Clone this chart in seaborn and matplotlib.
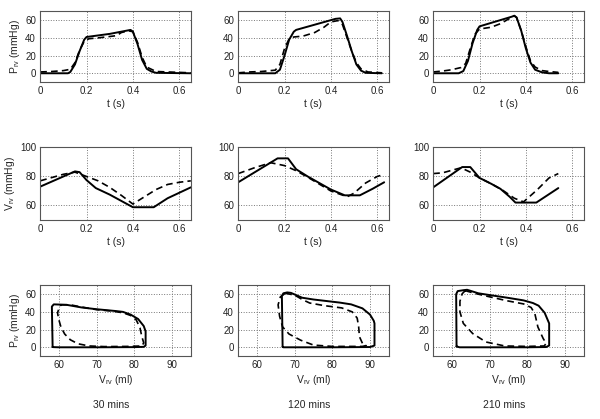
import numpy as np
import pandas as pd
import seaborn as sns
import matplotlib
matplotlib.use("Agg")
import matplotlib.pyplot as plt

# conditions (columns)
conditions = ['30 mins', '120 mins', '210 mins']

# P_rv(t): (t [s], P [mmHg]) -- solid = model, dashed = measured
p_t_30_solid = [(0, 0), (0.12, 0), (0.13, 1.5), (0.15, 10), (0.17, 25), (0.19, 38), (0.2, 41), (0.3, 44.5),
                (0.37, 48), (0.39, 49), (0.4, 47), (0.42, 33), (0.44, 15), (0.46, 5), (0.48, 2), (0.5, 0.5), (0.65, 0)]
p_t_30_dash = [(0, 1.5), (0.05, 2), (0.1, 3), (0.13, 4.5), (0.15, 12), (0.17, 26), (0.19, 36), (0.21, 39), (0.25, 40),
               (0.33, 42.5), (0.35, 46), (0.38, 48), (0.4, 47), (0.42, 35), (0.44, 18), (0.46, 7), (0.5, 2), (0.55, 1.5),
               (0.6, 1), (0.65, 0.5)]
p_t_120_solid = [(0, 0), (0.16, 0), (0.18, 4), (0.2, 20), (0.22, 38), (0.24, 47), (0.25, 49), (0.42, 61.5), (0.44, 62),
                 (0.45, 58), (0.47, 42), (0.49, 25), (0.51, 10), (0.53, 3), (0.55, 0.5), (0.62, 0)]
p_t_120_dash = [(0, 0.5), (0.05, 1.5), (0.1, 2), (0.16, 3.5), (0.18, 10), (0.2, 28), (0.22, 39), (0.24, 41), (0.28, 42),
                (0.33, 46), (0.37, 52), (0.4, 58), (0.43, 59.5), (0.45, 55), (0.47, 40), (0.49, 25), (0.51, 12),
                (0.53, 5), (0.56, 1.5), (0.62, 0.5)]
p_t_210_solid = [(0, 0), (0.11, 0), (0.13, 2.5), (0.15, 14), (0.17, 34), (0.19, 49), (0.2, 53), (0.34, 64), (0.35, 65),
                 (0.36, 63), (0.38, 48), (0.4, 28), (0.42, 12), (0.44, 4), (0.47, 1), (0.5, 0), (0.54, 0)]
p_t_210_dash = [(0, 1.5), (0.04, 2.5), (0.08, 4), (0.12, 6.5), (0.14, 11), (0.16, 28), (0.18, 44), (0.2, 50), (0.25, 52),
                (0.29, 56), (0.31, 59), (0.33, 62), (0.35, 65), (0.36, 63), (0.38, 48), (0.4, 30), (0.42, 14), (0.44, 7),
                (0.47, 3), (0.5, 2), (0.54, 1)]

# V_rv(t): (t [s], V)
v_t_30_solid = [(0, 73), (0.15, 83.5), (0.17, 83), (0.2, 77.5), (0.24, 72), (0.3, 67.5), (0.4, 58.8), (0.49, 58.8),
                (0.55, 65), (0.65, 72.5)]
v_t_30_dash = [(0, 77), (0.1, 81.5), (0.15, 83), (0.2, 80), (0.25, 77), (0.3, 72.5), (0.35, 67), (0.4, 61), (0.45, 66),
               (0.5, 71), (0.55, 74.5), (0.6, 76), (0.65, 77)]
v_t_120_solid = [(0, 76), (0.17, 92.5), (0.215, 92.5), (0.25, 85), (0.3, 80), (0.4, 71), (0.46, 67), (0.525, 67),
                 (0.58, 71.5), (0.63, 76)]
v_t_120_dash = [(0, 82), (0.07, 86), (0.14, 89.5), (0.2, 87.5), (0.25, 84), (0.3, 79.5), (0.4, 70), (0.47, 66),
                (0.5, 68.5), (0.55, 75.5), (0.6, 80), (0.63, 81.5)]
v_t_210_solid = [(0, 72.5), (0.125, 86.5), (0.16, 86.5), (0.2, 79), (0.25, 75), (0.29, 71.5), (0.33, 66), (0.355, 62),
                 (0.445, 62), (0.54, 72)]
v_t_210_dash = [(0, 82), (0.04, 82.5), (0.12, 86), (0.16, 83), (0.2, 79), (0.25, 75), (0.3, 70.5), (0.35, 65),
                (0.39, 62.5), (0.45, 71), (0.5, 79), (0.54, 82)]

# P-V loops: (V [ml], P [mmHg])
pv_30_solid = [(58.3, 0.5), (58.1, 46), (58.6, 48.5), (62, 48), (66, 45), (70, 43), (75, 41), (77, 40), (79, 37),
               (81, 32), (82.5, 24), (83, 18), (83, 2), (82.5, 0.5), (80, 0.2), (70, 0), (60, 0), (58.5, 0.2),
               (58.3, 0.5)]
pv_30_dash = [(60.5, 48), (63, 48), (66, 45.5), (70, 42.5), (74, 41), (77, 39), (79, 36), (80.5, 31), (81.5, 22),
              (82, 12), (82.5, 5), (82, 1.5), (78, 1), (72, 0.8), (68, 1.5), (65, 4), (63, 8.5), (61.5, 15),
              (60.5, 23), (59.9, 32), (59.6, 39), (60, 44), (60.5, 48)]
pv_120_solid = [(66.8, 0.5), (66.6, 58), (67, 61), (68, 62), (69, 61.5), (72, 56), (75, 54), (78, 52.5), (82, 50.5),
                (85, 48.5), (88, 44), (90, 37), (91, 30), (91.2, 27), (91.2, 2), (90, 0.3), (80, 0), (70, 0),
                (67, 0), (66.8, 0.5)]
pv_120_dash = [(67.5, 61), (70, 59), (72, 54), (74, 50), (78, 47), (82.5, 44.5), (85.3, 40), (86.6, 33), (87, 23),
               (87.2, 12), (88, 4.5), (89, 2), (88, 1), (80, 1), (75, 2.5), (71.6, 8), (68.5, 15), (66.8, 23),
               (66, 35), (65.6, 48), (66.2, 57), (67.5, 61)]
pv_210_solid = [(61.2, 1), (61.1, 60), (61.5, 63.5), (63, 64.5), (64, 65), (67, 61), (70, 59), (74.7, 56), (79, 53),
                (81.5, 50), (83, 47), (84.6, 39), (85.5, 30), (85.8, 27), (85.8, 2), (85, 0.3), (80, 0), (70, 0),
                (62, 0), (61.2, 1)]
pv_210_dash = [(63.5, 64), (66, 61), (70, 57), (74.7, 52.5), (79, 49), (81, 45), (82, 38), (82.8, 23), (84.2, 10),
               (85, 4.5), (84.5, 1.5), (80, 1), (74, 1.5), (69, 6), (65.5, 15.5), (63, 27), (62.1, 40), (62.1, 52),
               (62.7, 60.5), (63.5, 64)]

p_t_rows = [(p_t_30_solid, p_t_30_dash), (p_t_120_solid, p_t_120_dash), (p_t_210_solid, p_t_210_dash)]
v_t_rows = [(v_t_30_solid, v_t_30_dash), (v_t_120_solid, v_t_120_dash), (v_t_210_solid, v_t_210_dash)]
pv_rows = [(pv_30_solid, pv_30_dash), (pv_120_solid, pv_120_dash), (pv_210_solid, pv_210_dash)]

sns.set_style("white")
plt.rcParams['font.family'] = ['Liberation Sans', 'DejaVu Sans']
plt.rcParams['mathtext.fontset'] = 'custom'
plt.rcParams['mathtext.rm'] = 'Liberation Sans'
plt.rcParams['mathtext.it'] = 'Liberation Sans'

fig = plt.figure(figsize=(6, 4.19), dpi=100)

lefts = [0.067, 0.397, 0.722]
bottoms = [0.804, 0.475, 0.150]
w, h = 0.251, 0.169


def draw(ax, pairs, sort):
    solid, dash = pairs
    s = np.array(solid).T
    d = np.array(dash).T
    sns.lineplot(x=s[0], y=s[1], ax=ax, sort=sort, estimator=None, color='k', lw=1.4)
    sns.lineplot(x=d[0], y=d[1], ax=ax, sort=sort, estimator=None, color='k', lw=1.2, dashes=False,
                 linestyle=(0, (4, 2.5)))


def style(ax, xlim, ylim, xticks, yticks):
    ax.set_xlim(*xlim)
    ax.set_ylim(*ylim)
    ax.set_xticks(xticks)
    ax.set_yticks(yticks)
    ax.grid(True, linestyle=':', color='#777777', lw=0.7)
    for sp in ax.spines.values():
        sp.set_color('#555555')
        sp.set_linewidth(0.8)
    ax.tick_params(direction='in', length=2, width=0.6, colors='#555555', labelcolor='#222222',
                   labelsize=7, pad=3)


for j in range(3):
    ax = fig.add_axes([lefts[j], bottoms[0], w, h])
    draw(ax, p_t_rows[j], True)
    style(ax, (0, 0.65), (-10, 70), [0, 0.2, 0.4, 0.6], [0, 20, 40, 60])
    ax.set_xticklabels(['0', '0.2', '0.4', '0.6'])
    ax.set_xlabel('t (s)', fontsize=7.5, labelpad=2)
    if j == 0:
        ax.set_ylabel(r'P$_{\rm rv}$ (mmHg)', fontsize=7.5, labelpad=2)

    ax = fig.add_axes([lefts[j], bottoms[1], w, h + 0.004])
    draw(ax, v_t_rows[j], True)
    style(ax, (0, 0.65), (50, 100), [0, 0.2, 0.4, 0.6], [60, 80, 100])
    ax.set_xticklabels(['0', '0.2', '0.4', '0.6'])
    ax.set_xlabel('t (s)', fontsize=7.5, labelpad=2)
    if j == 0:
        ax.set_ylabel(r'V$_{\rm rv}$ (mmHg)', fontsize=7.5, labelpad=2)

    ax = fig.add_axes([lefts[j], bottoms[2], w, h])
    draw(ax, pv_rows[j], False)
    style(ax, (55, 95), (-10, 70), [60, 70, 80, 90], [0, 20, 40, 60])
    ax.set_xlabel(r'V$_{\rm rv}$ (ml)', fontsize=7.5, labelpad=2)
    if j == 0:
        ax.set_ylabel(r'P$_{\rm rv}$ (mmHg)', fontsize=7.5, labelpad=2)

    fig.text(lefts[j] + w / 2 - 0.008, 0.033, conditions[j], ha='center', va='center', fontsize=7.5)

fig.savefig('out.png', dpi=100)
